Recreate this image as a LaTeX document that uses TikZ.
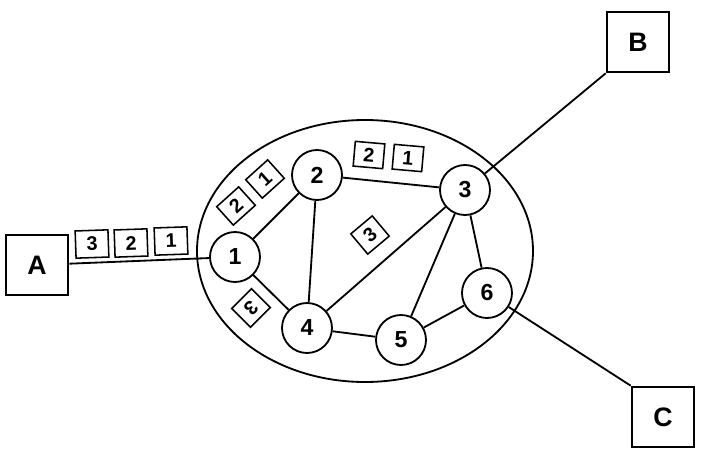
\documentclass[tikz,border=0pt]{standalone}
\usepackage{fontspec}
\setmainfont{Liberation Sans}
\usetikzlibrary{positioning}
\tikzset{
  router/.style={circle,draw,line width=1.3pt,minimum size=1.25cm,inner sep=0pt,font=\fontsize{16.5}{19}\selectfont\bfseries},
  host/.style={draw,line width=1.3pt,minimum width=1.57cm,minimum height=1.52cm,inner sep=0pt,font=\fontsize{19}{22}\selectfont\bfseries},
  packet/.style={draw,line width=1.1pt,minimum width=0.74cm,minimum height=0.62cm,inner sep=0pt,font=\fontsize{14}{16}\selectfont\bfseries},
  link/.style={line width=1.3pt}
}

\begin{document}
\begin{tikzpicture}
  \useasboundingbox (0,0) rectangle (17.825,11.65);
  % subnet
  \draw[link] (9.125,5.375) ellipse [x radius=4.2,y radius=3.275];
  % routers
  \node[router] (n1) at (5.875,5.225) {1};
  \node[router] (n2) at (7.925,7.275) {2};
  \node[router] (n3) at (11.625,6.9) {3};
  \node[router] (n4) at (7.675,3.45) {4};
  \node[router] (n5) at (10.025,3.15) {5};
  \node[router] (n6) at (12.175,4.325) {6};
  % hosts
  \node[host] (a) at (0.925,5.025) {A};
  \node[host] (b) at (15.95,10.6) {B};
  \node[host] (c) at (16.575,1.225) {C};
  % links
  \foreach \u/\v in {n1/n2,n1/n4,n2/n3,n2/n4,n3/n4,n3/n5,n3/n6,n4/n5,n5/n6}{
    \draw[link] (\u) -- (\v);
  }
  \draw[link] (a) -- (n1);
  \draw[link] (n3) -- (b.south west);
  \draw[link] (n6) -- (c.north west);
  % packets
  \foreach \x/\y/\t in {2.3/5.55/3,3.275/5.575/2,4.275/5.625/1}{
    \node[packet,minimum width=0.82cm,minimum height=0.68cm,rotate=2] (pa\t) at (\x,\y) {\t};
  }
  \node[packet,rotate=42] (pb2) at (5.9,6.5) {2};
  \node[packet,rotate=42] (pb1) at (6.625,7.175) {1};
  \node[packet,rotate=-5] (pc2) at (9.225,7.775) {2};
  \node[packet,rotate=-5] (pc1) at (10.2,7.7) {1};
  \node[packet,minimum width=0.7cm,minimum height=0.66cm,rotate=40] (pd3) at (9.25,5.775) {3};
  \node[packet,minimum width=0.7cm,minimum height=0.66cm,rotate=-135] (pe3) at (6.275,3.95) {3};
\end{tikzpicture}
\end{document}
